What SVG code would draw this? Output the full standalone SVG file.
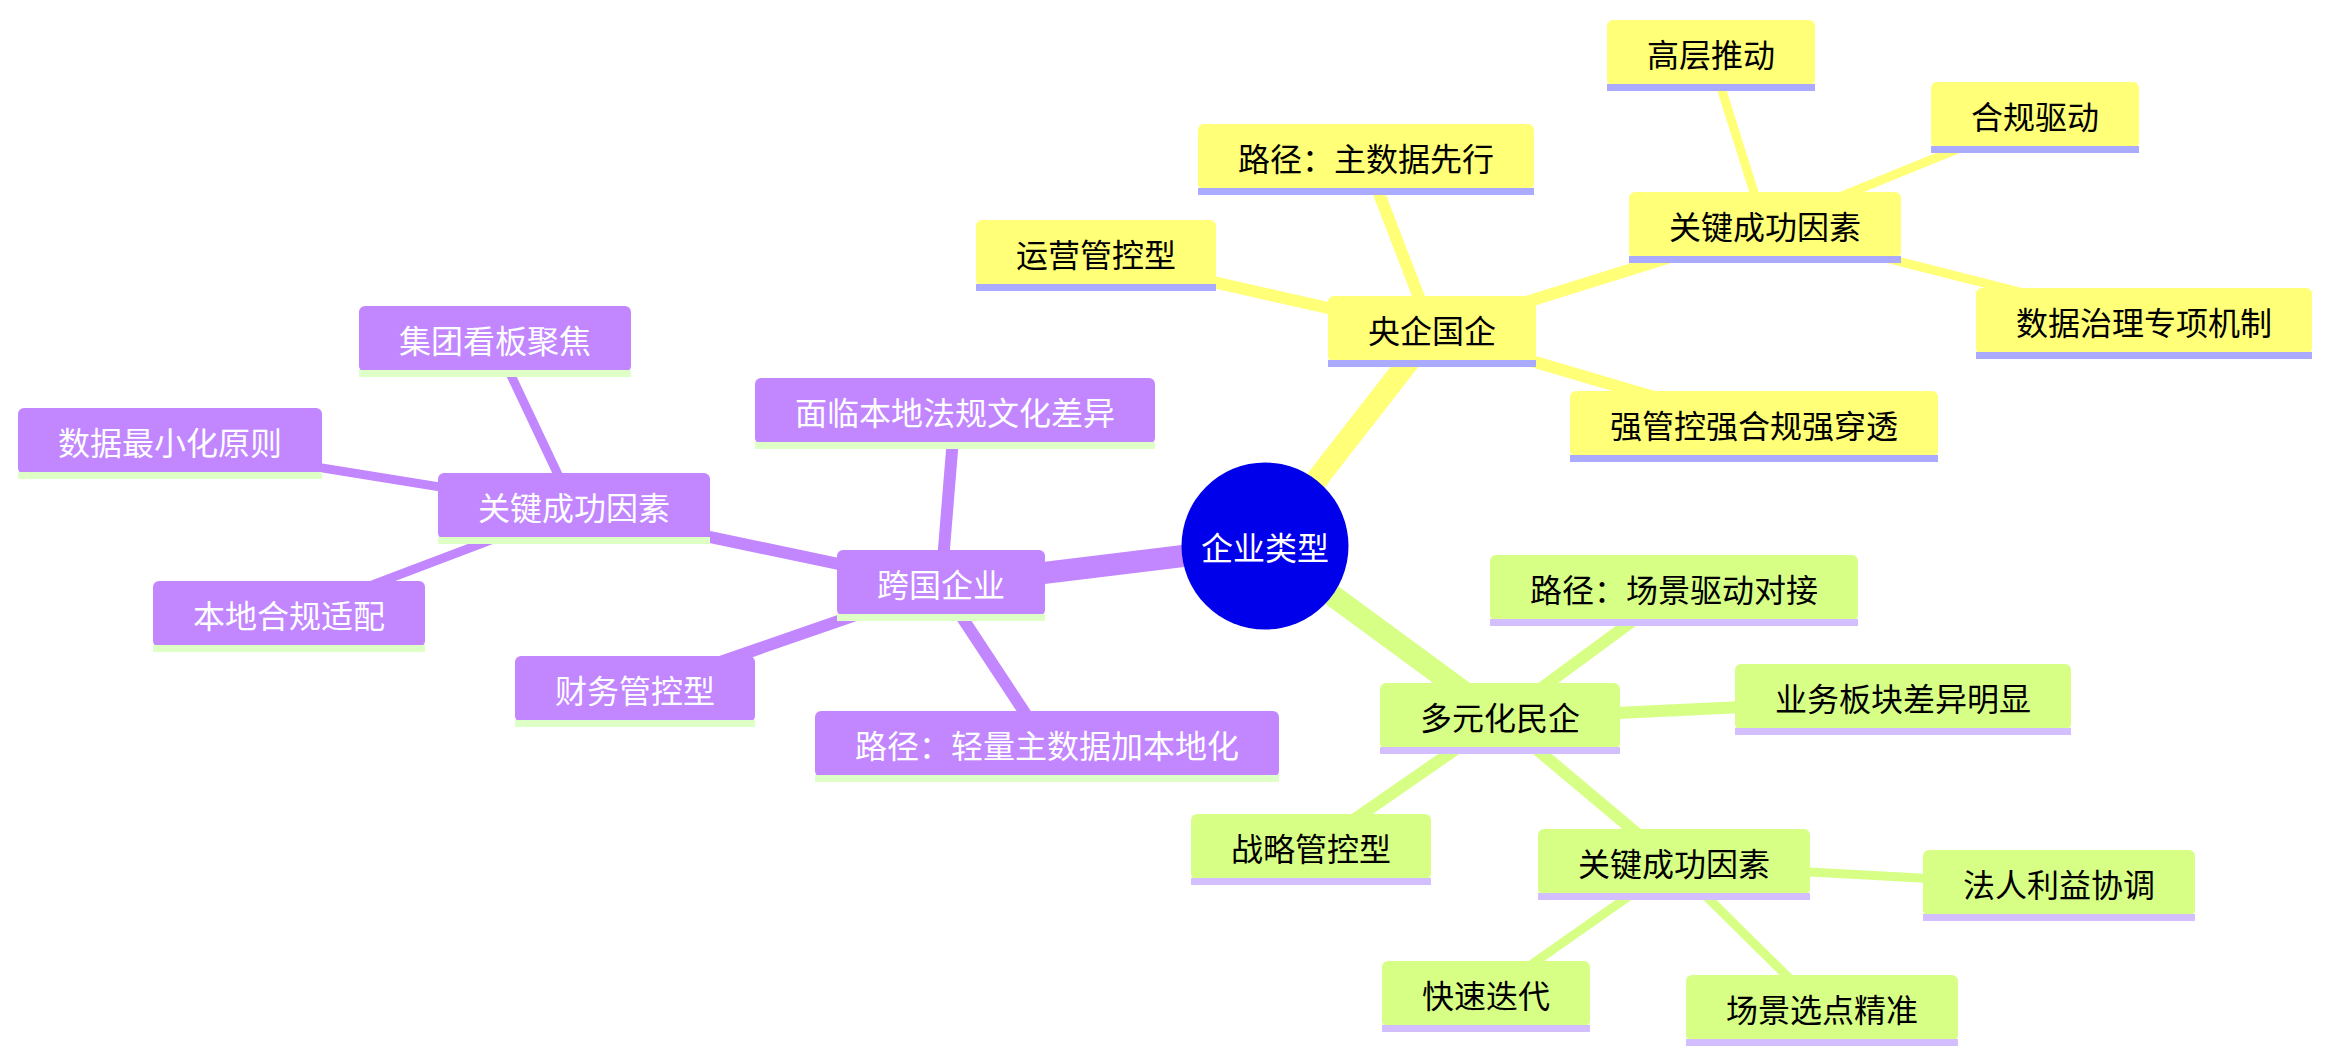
<svg xmlns="http://www.w3.org/2000/svg" width="2331" height="1061" viewBox="0 0 2331 1061">
<style>
  text { font-family: "Noto Sans CJK SC", "Noto Sans", sans-serif; font-size: 32px; text-anchor: middle; dominant-baseline: central; }
  .l1 { stroke-width: 22; fill: none; }
  .l2 { stroke-width: 12; fill: none; }
  .l3 { stroke-width: 9; fill: none; }
  .cy { stroke: #FFFF78; }
  .cg { stroke: #D7FF86; }
  .cp { stroke: #C286FF; }
  .ny .body { fill: #FFFF78; }
  .ny .line { fill: #AAAAFF; }
  .ny text { fill: #000000; }
  .ng .body { fill: #D7FF86; }
  .ng .line { fill: #D3BEFF; }
  .ng text { fill: #000000; }
  .np .body { fill: #C286FF; }
  .np .line { fill: #DEFFC6; }
  .np text { fill: #FFFFFF; }
</style>
<rect x="0" y="0" width="2331" height="1061" fill="#FFFFFF"/>
<g id="connectors">
  <line class="l1 cy" x1="1265" y1="546" x2="1432" y2="331.5"/>
  <line class="l1 cg" x1="1265" y1="546" x2="1500" y2="718.5"/>
  <line class="l1 cp" x1="1265" y1="546" x2="941" y2="585.5"/>
  <line class="l2 cy" x1="1432" y1="331.5" x2="1096" y2="255.5"/>
  <line class="l2 cy" x1="1432" y1="331.5" x2="1366" y2="159.5"/>
  <line class="l2 cy" x1="1432" y1="331.5" x2="1765" y2="227.5"/>
  <line class="l2 cy" x1="1432" y1="331.5" x2="1754" y2="426.5"/>
  <line class="l3 cy" x1="1765" y1="227.5" x2="1711" y2="55.5"/>
  <line class="l3 cy" x1="1765" y1="227.5" x2="2035" y2="117.5"/>
  <line class="l3 cy" x1="1765" y1="227.5" x2="2144" y2="323.5"/>
  <line class="l2 cg" x1="1500" y1="718.5" x2="1674" y2="590.5"/>
  <line class="l2 cg" x1="1500" y1="718.5" x2="1903" y2="699.5"/>
  <line class="l2 cg" x1="1500" y1="718.5" x2="1311" y2="849.5"/>
  <line class="l2 cg" x1="1500" y1="718.5" x2="1674" y2="864.5"/>
  <line class="l3 cg" x1="1674" y1="864.5" x2="2059" y2="885.5"/>
  <line class="l3 cg" x1="1674" y1="864.5" x2="1486" y2="996.5"/>
  <line class="l3 cg" x1="1674" y1="864.5" x2="1822" y2="1010.5"/>
  <line class="l2 cp" x1="941" y1="585.5" x2="955" y2="413.5"/>
  <line class="l2 cp" x1="941" y1="585.5" x2="574" y2="508.5"/>
  <line class="l2 cp" x1="941" y1="585.5" x2="635" y2="691.5"/>
  <line class="l2 cp" x1="941" y1="585.5" x2="1047" y2="746.5"/>
  <line class="l3 cp" x1="574" y1="508.5" x2="495" y2="341.5"/>
  <line class="l3 cp" x1="574" y1="508.5" x2="170" y2="443.5"/>
  <line class="l3 cp" x1="574" y1="508.5" x2="289" y2="616.5"/>
</g>
<g id="node-root">
  <circle cx="1265" cy="546" r="83.5" fill="#0000EA"/>
  <text x="1265" y="546" fill="#FFFFFF">企业类型</text>
</g>
<!-- yellow section -->
<g id="node-yangqi" class="ny" transform="translate(1328,296)"><rect class="body" width="208" height="66" rx="6"/><rect class="line" y="64" width="208" height="7"/><text x="104" y="33">央企国企</text></g>
<g id="node-yunying" class="ny" transform="translate(976,220)"><rect class="body" width="240" height="66" rx="6"/><rect class="line" y="64" width="240" height="7"/><text x="120" y="33">运营管控型</text></g>
<g id="node-lujing-y" class="ny" transform="translate(1198,124)"><rect class="body" width="336" height="66" rx="6"/><rect class="line" y="64" width="336" height="7"/><text x="168" y="33">路径：主数据先行</text></g>
<g id="node-ksf-y" class="ny" transform="translate(1629,192)"><rect class="body" width="272" height="66" rx="6"/><rect class="line" y="64" width="272" height="7"/><text x="136" y="33">关键成功因素</text></g>
<g id="node-gaoceng" class="ny" transform="translate(1607,20)"><rect class="body" width="208" height="66" rx="6"/><rect class="line" y="64" width="208" height="7"/><text x="104" y="33">高层推动</text></g>
<g id="node-hegui" class="ny" transform="translate(1931,82)"><rect class="body" width="208" height="66" rx="6"/><rect class="line" y="64" width="208" height="7"/><text x="104" y="33">合规驱动</text></g>
<g id="node-shujuzhili" class="ny" transform="translate(1976,288)"><rect class="body" width="336" height="66" rx="6"/><rect class="line" y="64" width="336" height="7"/><text x="168" y="33">数据治理专项机制</text></g>
<g id="node-qiangguankong" class="ny" transform="translate(1570,391)"><rect class="body" width="368" height="66" rx="6"/><rect class="line" y="64" width="368" height="7"/><text x="184" y="33">强管控强合规强穿透</text></g>
<!-- green section -->
<g id="node-duoyuan" class="ng" transform="translate(1380,683)"><rect class="body" width="240" height="66" rx="6"/><rect class="line" y="64" width="240" height="7"/><text x="120" y="33">多元化民企</text></g>
<g id="node-lujing-g" class="ng" transform="translate(1490,555)"><rect class="body" width="368" height="66" rx="6"/><rect class="line" y="64" width="368" height="7"/><text x="184" y="33">路径：场景驱动对接</text></g>
<g id="node-yewu" class="ng" transform="translate(1735,664)"><rect class="body" width="336" height="66" rx="6"/><rect class="line" y="64" width="336" height="7"/><text x="168" y="33">业务板块差异明显</text></g>
<g id="node-zhanlue" class="ng" transform="translate(1191,814)"><rect class="body" width="240" height="66" rx="6"/><rect class="line" y="64" width="240" height="7"/><text x="120" y="33">战略管控型</text></g>
<g id="node-ksf-g" class="ng" transform="translate(1538,829)"><rect class="body" width="272" height="66" rx="6"/><rect class="line" y="64" width="272" height="7"/><text x="136" y="33">关键成功因素</text></g>
<g id="node-faren" class="ng" transform="translate(1923,850)"><rect class="body" width="272" height="66" rx="6"/><rect class="line" y="64" width="272" height="7"/><text x="136" y="33">法人利益协调</text></g>
<g id="node-kuaisu" class="ng" transform="translate(1382,961)"><rect class="body" width="208" height="66" rx="6"/><rect class="line" y="64" width="208" height="7"/><text x="104" y="33">快速迭代</text></g>
<g id="node-changjing" class="ng" transform="translate(1686,975)"><rect class="body" width="272" height="66" rx="6"/><rect class="line" y="64" width="272" height="7"/><text x="136" y="33">场景选点精准</text></g>
<!-- purple section -->
<g id="node-kuaguo" class="np" transform="translate(837,550)"><rect class="body" width="208" height="66" rx="6"/><rect class="line" y="64" width="208" height="7"/><text x="104" y="33">跨国企业</text></g>
<g id="node-jituan" class="np" transform="translate(359,306)"><rect class="body" width="272" height="66" rx="6"/><rect class="line" y="64" width="272" height="7"/><text x="136" y="33">集团看板聚焦</text></g>
<g id="node-mianlin" class="np" transform="translate(755,378)"><rect class="body" width="400" height="66" rx="6"/><rect class="line" y="64" width="400" height="7"/><text x="200" y="33">面临本地法规文化差异</text></g>
<g id="node-zuixiao" class="np" transform="translate(18,408)"><rect class="body" width="304" height="66" rx="6"/><rect class="line" y="64" width="304" height="7"/><text x="152" y="33">数据最小化原则</text></g>
<g id="node-ksf-p" class="np" transform="translate(438,473)"><rect class="body" width="272" height="66" rx="6"/><rect class="line" y="64" width="272" height="7"/><text x="136" y="33">关键成功因素</text></g>
<g id="node-bendi" class="np" transform="translate(153,581)"><rect class="body" width="272" height="66" rx="6"/><rect class="line" y="64" width="272" height="7"/><text x="136" y="33">本地合规适配</text></g>
<g id="node-caiwu" class="np" transform="translate(515,656)"><rect class="body" width="240" height="66" rx="6"/><rect class="line" y="64" width="240" height="7"/><text x="120" y="33">财务管控型</text></g>
<g id="node-lujing-p" class="np" transform="translate(815,711)"><rect class="body" width="464" height="66" rx="6"/><rect class="line" y="64" width="464" height="7"/><text x="232" y="33">路径：轻量主数据加本地化</text></g>
</svg>
